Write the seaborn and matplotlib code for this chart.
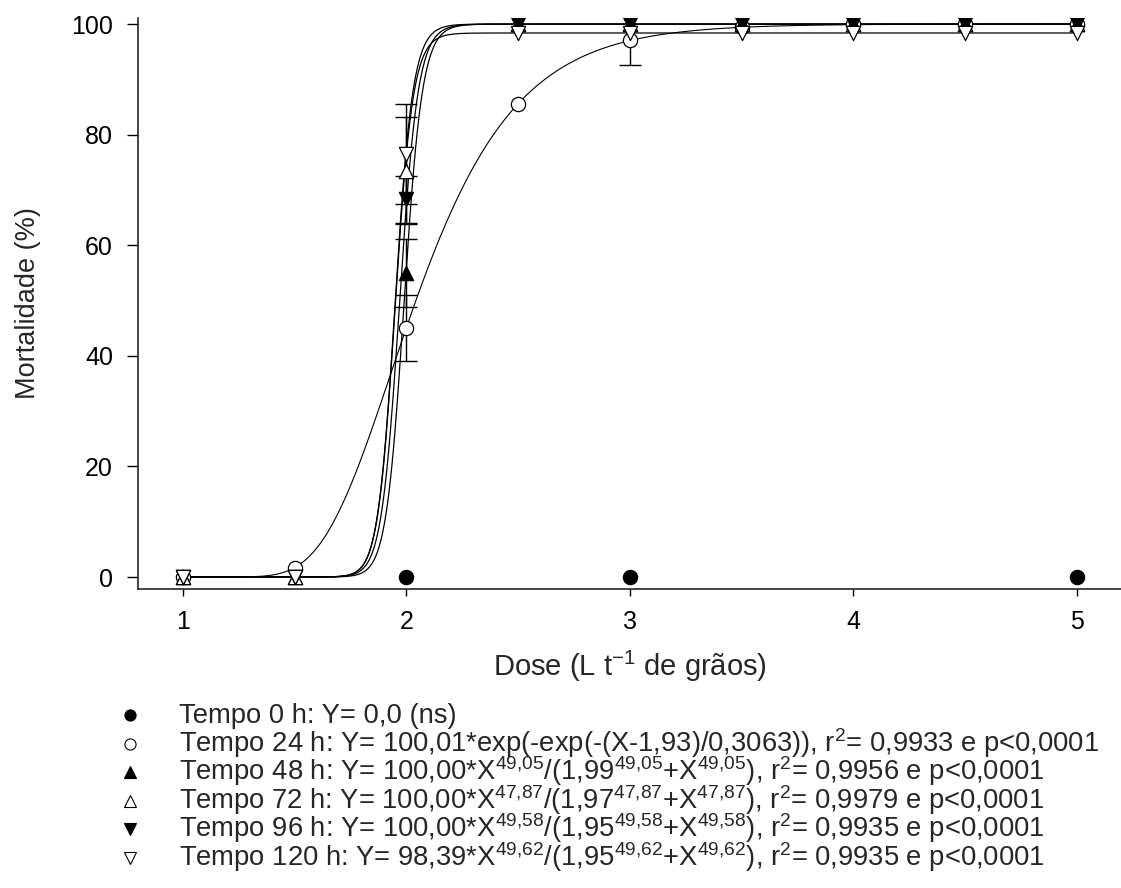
import numpy as np
import pandas as pd
import matplotlib
matplotlib.use("Agg")
import matplotlib.pyplot as plt
from matplotlib.lines import Line2D
import seaborn as sns

doses = [1, 1.5, 2, 2.5, 3, 3.5, 4, 4.5, 5]
doses_0h = [2, 3, 5]
mort_0h = [0, 0, 0]
mort_24h = [0, 1.6, 45, 85.5, 97.1, 99.5, 100, 100, 100]
err_24h = [0, 0, 6.0, 0, 4.5, 0, 0, 0, 0]
mort_48h = [0, 0, 55, 100, 100, 100, 100, 100, 100]
err_48h = [0, 0, 6.2, 0, 0, 0, 0, 0, 0]
mort_72h = [0, 0, 73.5, 100, 100, 100, 100, 100, 100]
err_72h = [0, 0, 9.7, 0, 0, 0, 0, 0, 0]
mort_96h = [0, 0, 68.3, 100, 100, 100, 100, 100, 100]
err_96h = [0, 0, 4.2, 0, 0, 0, 0, 0, 0]
mort_120h = [0, 0, 76.5, 98.4, 98.4, 98.4, 98.4, 98.4, 98.4]
err_120h = [0, 0, 9.0, 0, 0, 0, 0, 0, 0]

# fitted model parameters (from the legend)
gomp_a, gomp_x0, gomp_b = 100.01, 1.93, 0.3063
hill_a = [100.00, 100.00, 100.00, 98.39]
hill_b = [49.05, 47.87, 49.58, 49.62]
hill_c = [1.99, 1.97, 1.95, 1.95]

legend_labels = [
    "Tempo 0 h: Y= 0,0 (ns)",
    "Tempo 24 h: Y= 100,01*exp(-exp(-(X-1,93)/0,3063)), r$^{2}$= 0,9933 e p<0,0001",
    "Tempo 48 h: Y= 100,00*X$^{49{,}05}$/(1,99$^{49{,}05}$+X$^{49{,}05}$), r$^{2}$= 0,9956 e p<0,0001",
    "Tempo 72 h: Y= 100,00*X$^{47{,}87}$/(1,97$^{47{,}87}$+X$^{47{,}87}$), r$^{2}$= 0,9979 e p<0,0001",
    "Tempo 96 h: Y= 100,00*X$^{49{,}58}$/(1,95$^{49{,}58}$+X$^{49{,}58}$), r$^{2}$= 0,9935 e p<0,0001",
    "Tempo 120 h: Y= 98,39*X$^{49{,}62}$/(1,95$^{49{,}62}$+X$^{49{,}62}$), r$^{2}$= 0,9935 e p<0,0001",
]

sns.set_style("ticks")
plt.rcParams["font.family"] = ["Liberation Sans", "DejaVu Sans"]
plt.rcParams["mathtext.fontset"] = "custom"
plt.rcParams["mathtext.rm"] = "Liberation Sans"
plt.rcParams["mathtext.it"] = "Liberation Sans:italic"
plt.rcParams["mathtext.default"] = "regular"

fig = plt.figure(figsize=(11.21, 8.88), dpi=100)
ax = fig.add_axes([138 / 1121, 1 - 589 / 888, 983 / 1121, 571 / 888])

# fitted curves
xs = np.linspace(1, 5, 600)
gomp = gomp_a * np.exp(-np.exp(-(xs - gomp_x0) / gomp_b))
sns.lineplot(x=xs, y=gomp, color="black", linewidth=0.8, ax=ax, zorder=2)
for a, b, c in zip(hill_a, hill_b, hill_c):
    yh = a * xs ** b / (c ** b + xs ** b)
    sns.lineplot(x=xs, y=yh, color="black", linewidth=0.9, ax=ax, zorder=2)

# series: (doses, values, errors, marker, face colour)
series = [
    (doses_0h, mort_0h, None, "o", "black"),
    (doses, mort_24h, err_24h, "o", "white"),
    (doses, mort_48h, err_48h, "^", "black"),
    (doses, mort_72h, err_72h, "^", "white"),
    (doses, mort_96h, err_96h, "v", "black"),
    (doses, mort_120h, err_120h, "v", "white"),
]

for i, (dx, dy, de, mk, fc) in enumerate(series):
    if de is not None:
        df = pd.DataFrame({"x": dx, "y": dy, "e": de})
        df = df[df["e"] > 0]
        ax.errorbar(df["x"], df["y"], yerr=df["e"], fmt="none", ecolor="black",
                    elinewidth=1.0, capsize=8, capthick=1.0, zorder=3)
    sns.scatterplot(x=dx, y=dy, marker=mk, s=105, color=fc, edgecolor="black",
                    linewidth=0.9, ax=ax, zorder=4 + i, legend=False)

ax.set_xlim(0.799, 5.197)
ax.set_ylim(-2.17, 101.1)
ax.set_xticks([1, 2, 3, 4, 5])
ax.set_yticks([0, 20, 40, 60, 80, 100])
ax.spines["top"].set_visible(False)
ax.spines["right"].set_visible(False)
ax.spines["left"].set_linewidth(1.2)
ax.spines["bottom"].set_linewidth(1.2)
ax.tick_params(axis="x", direction="out", length=5, width=1.0, pad=10,
               labelsize=18, colors="black")
ax.tick_params(axis="y", direction="out", length=8, width=1.0, pad=10,
               labelsize=18, colors="black")
ax.set_xlabel("Dose (L t$^{-1}$ de grãos)", fontsize=21, labelpad=11)
ax.set_ylabel("Mortalidade (%)", fontsize=19.5, labelpad=22)

# legend block under the plot
markers = [("o", "black"), ("o", "white"), ("^", "black"), ("^", "white"),
           ("v", "black"), ("v", "white")]
for i, (lab, (mk, fc)) in enumerate(zip(legend_labels, markers)):
    base = 723 + 28.5 * i
    fig.add_artist(Line2D([130 / 1121], [1 - (base - 8) / 888], transform=fig.transFigure,
                          marker=mk, markersize=8, markerfacecolor=fc,
                          markeredgecolor="black", markeredgewidth=0.8, linestyle="none"))
    fig.text(179 / 1121, 1 - base / 888, lab, fontsize=19.7, ha="left", va="baseline")

fig.savefig("out.png", dpi=100, facecolor="white")
